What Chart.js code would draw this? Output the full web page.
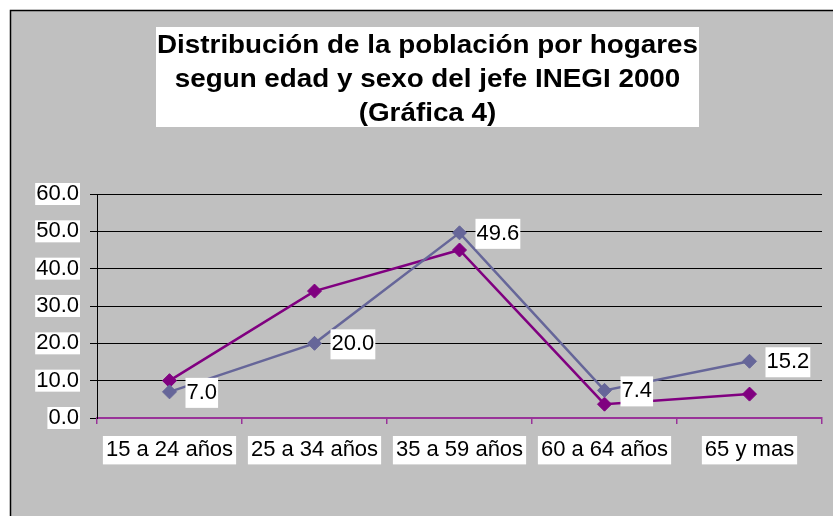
<!DOCTYPE html>
<html lang="es">
<head>
  <meta charset="UTF-8" />
  <title>Distribución de la población por hogares</title>
  <script src="https://cdn.jsdelivr.net/npm/chart.js"></script>
  <style>
    body {
      margin: 0;
      background: #fff;
    }
  </style>
</head>
<body>
  <canvas id="grafica" width="833" height="516"></canvas>

  <script>
    // datos
    const categorias = ["15 a 24 años", "25 a 34 años", "35 a 59 años", "60 a 64 años", "65 y mas"];
    const serie1 = [7.0, 20.0, 49.6, 7.4, 15.2];
    const serie2 = [10.0, 34.0, 45.0, 3.7, 6.4];
    const titulo = [
      "Distribución de la población por hogares",
      "segun edad y sexo del jefe INEGI 2000",
      "(Gráfica 4)"
    ];
    const yMin = 0, yMax = 60, yPaso = 10;

    const fuente = "Arial, 'Liberation Sans', sans-serif";

    // fondo gris con el marco
    const marco = {
      id: "marco",
      beforeDraw(chart) {
        const ctx = chart.ctx;
        ctx.save();
        ctx.fillStyle = "#c0c0c0";
        ctx.fillRect(10, 10, chart.width - 10, chart.height - 10);
        ctx.strokeStyle = "#000";
        ctx.lineWidth = 1.5;
        ctx.beginPath();
        ctx.moveTo(10.5, chart.height);
        ctx.lineTo(10.5, 10.5);
        ctx.lineTo(chart.width, 10.5);
        ctx.stroke();
        ctx.restore();
      }
    };

    // titulo en caja blanca (letra algo ensanchada como en el original)
    const tituloCaja = {
      id: "tituloCaja",
      afterDraw(chart) {
        const ctx = chart.ctx;
        ctx.save();
        ctx.fillStyle = "#fff";
        ctx.fillRect(156, 27, 543, 100);
        ctx.translate(427.5, 0);
        ctx.scale(1.07, 1);
        ctx.font = "bold 26px " + fuente;
        ctx.fillStyle = "#000";
        ctx.textAlign = "center";
        ctx.textBaseline = "middle";
        titulo.forEach((linea, i) => {
          ctx.fillText(linea, 0, 46 + i * 34);
        });
        ctx.restore();
      }
    };

    // etiquetas de valores de la serie 1
    const etiquetas = {
      id: "etiquetas",
      afterDatasetsDraw(chart) {
        const ctx = chart.ctx;
        const meta = chart.getDatasetMeta(0);
        ctx.save();
        ctx.font = "22px " + fuente;
        ctx.textBaseline = "middle";
        meta.data.forEach((pt, i) => {
          const txt = serie1[i].toFixed(1);
          const w = ctx.measureText(txt).width;
          ctx.fillStyle = "#fff";
          ctx.fillRect(pt.x + 16, pt.y - 14, w + 2, 30);
          ctx.fillStyle = "#000";
          ctx.fillText(txt, pt.x + 17, pt.y + 1);
        });
        ctx.restore();
      }
    };

    new Chart(document.getElementById("grafica"), {
      type: "line",
      data: {
        labels: categorias,
        datasets: [
          {
            label: "Serie 1",
            data: serie1,
            borderColor: "#666699",
            backgroundColor: "#666699",
            borderWidth: 2.5,
            pointStyle: "rectRot",
            pointRadius: 7,
            pointBorderWidth: 1,
            tension: 0
          },
          {
            label: "Serie 2",
            data: serie2,
            borderColor: "#800080",
            backgroundColor: "#800080",
            borderWidth: 2.5,
            pointStyle: "rectRot",
            pointRadius: 7,
            pointBorderWidth: 1,
            tension: 0
          }
        ]
      },
      options: {
        responsive: false,
        animation: false,
        devicePixelRatio: 1,
        layout: {
          padding: { top: 194, left: 0, right: 11, bottom: 0 }
        },
        plugins: {
          legend: { display: false },
          tooltip: { enabled: false }
        },
        scales: {
          x: {
            offset: true,
            afterFit(scale) { scale.height = 98; },
            grid: {
              offset: true,
              drawOnChartArea: false,
              color: "#993399",
              tickLength: 6,
              lineWidth: 1.5
            },
            border: { color: "#993399", width: 2 },
            ticks: {
              color: "#000",
              font: { family: fuente, size: 22, lineHeight: 1.2 },
              padding: 13,
              maxRotation: 0,
              showLabelBackdrop: true,
              backdropColor: "#fff",
              backdropPadding: { x: 3, y: 1 }
            }
          },
          y: {
            min: yMin,
            max: yMax,
            afterFit(scale) { scale.width = 97; },
            grid: {
              color: (c) => (c.tick && c.tick.value === 0 ? "rgba(0,0,0,0)" : "#000"),
              tickColor: "#000",
              tickLength: 7,
              lineWidth: 1
            },
            border: { color: "#000", width: 1 },
            ticks: {
              stepSize: yPaso,
              color: "#000",
              callback: (v) => v.toFixed(1),
              font: { family: fuente, size: 22, lineHeight: 1 },
              padding: 11,
              showLabelBackdrop: true,
              backdropColor: "#fff",
              backdropPadding: { x: 1, y: 0 }
            }
          }
        }
      },
      plugins: [marco, etiquetas, tituloCaja]
    });
  </script>
</body>
</html>
